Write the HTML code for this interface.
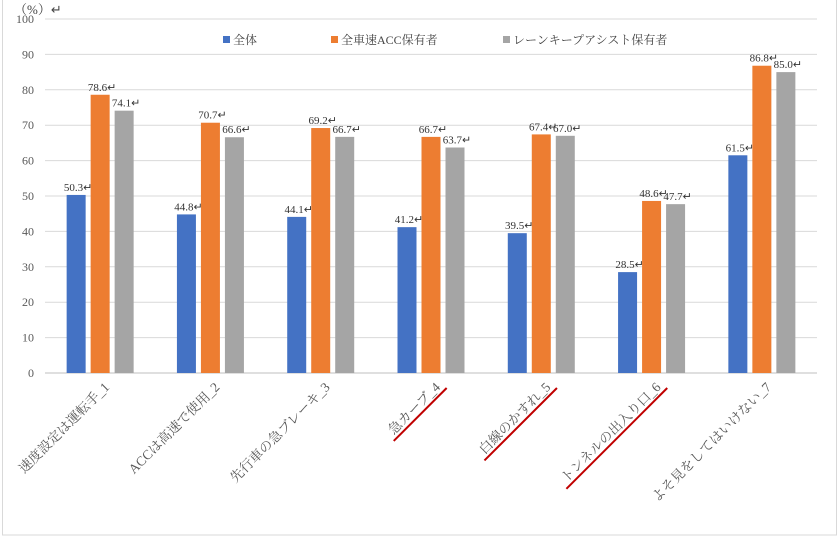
<!DOCTYPE html>
<html><head><meta charset="utf-8">
<style>
html,body{margin:0;padding:0;background:#fff;}
body{width:840px;height:537px;overflow:hidden;}
text{font-family:"Liberation Serif","Noto Serif CJK SC",serif;}
</style></head>
<body>
<svg id="chart" width="840" height="537" xmlns="http://www.w3.org/2000/svg">
<rect x="2.5" y="-2" width="834" height="537" fill="#fff" stroke="#d9d9d9"/>
<text x="14" y="14" font-size="13" fill="#444">（%）↵</text>
<g id="grid"></g><g id="bars"></g><g id="labels"></g>
<g font-size="12" fill="#444">
<rect x="223" y="36" width="7" height="7" fill="#4472c4"/>
<text x="233" y="44">全体</text>
<rect x="331" y="36" width="7" height="7" fill="#ed7d31"/>
<text x="341" y="44">全車速ACC保有者</text>
<rect x="503" y="36" width="7" height="7" fill="#a5a5a5"/>
<text x="513" y="44">レーンキープアシスト保有者</text>
</g>
</svg>
<script>
const categories=["速度設定は運転手_1","ACCは高速で使用_2","先行車の急ブレーキ_3","急カーブ_4","白線のかすれ_5","トンネルの出入り口_6","よそ見をしてはいけない_7"];
const seriesAll=[50.3,44.8,44.1,41.2,39.5,28.5,61.5];
const seriesAcc=[78.6,70.7,69.2,66.7,67.4,48.6,86.8];
const seriesLka=[74.1,66.6,66.7,63.7,67.0,47.7,85.0];
const yTicks=[0,10,20,30,40,50,60,70,80,90,100];
const underlined=[3,4,5];
const NS="http://www.w3.org/2000/svg";
const x0=45,x1=817,y0=373,y100=19;
const yS=v=>y0-(v/100)*(y0-y100);
const gw=(x1-x0)/categories.length;
const xC=i=>x0+gw*(i+0.5);
function mk(t,a,p){const e=document.createElementNS(NS,t);for(const k in a)e.setAttribute(k,a[k]);p.appendChild(e);return e;}
const grid=document.getElementById('grid'),bars=document.getElementById('bars'),labels=document.getElementById('labels');
yTicks.forEach(v=>{
 const l=mk('line',{x1:x0,x2:x1,y1:yS(v),y2:yS(v),stroke:v===0?'#bfbfbf':'#d9d9d9','stroke-width':1},grid);
 
 
 const t=mk('text',{x:34,y:yS(v)+4,'text-anchor':'end','font-size':12,fill:'#595959'},grid);
 
 
 t.textContent=v;
});
const series=[[seriesAll,'#4472c4'],[seriesAcc,'#ed7d31'],[seriesLka,'#a5a5a5']];
const bw=19,gap=5;
categories.forEach((c,i)=>{
 series.forEach((s,j)=>{
  const v=s[0][i];const bx=xC(i)+(j-1)*(bw+gap)-bw/2;
  const r=mk('rect',{x:bx,y:yS(v),width:bw,height:y0-yS(v),fill:s[1]},bars);
  
  
  const t=mk('text',{x:bx+bw/2+2,y:yS(v)-4,'text-anchor':'middle','font-size':11,fill:'#333'},bars);
  
  
  t.textContent=v.toFixed(1)+'↵';
 });
 const lx=xC(i)+10,ly=y0+15;
 const g=mk('g',{transform:`rotate(-45 ${lx} ${ly})`},labels);
 const t=mk('text',{x:lx,y:ly,'text-anchor':'end','font-size':13.5,fill:'#595959'},g);
 
 
 t.textContent=c;
 if(underlined.includes(i)){
  const len=t.getComputedTextLength();
  const u=mk('line',{x1:lx-len-4,y1:ly+4,x2:lx+4,y2:ly+4,stroke:'#c00000','stroke-width':2},g);
  
  
 }
});
</script>
</body></html>
